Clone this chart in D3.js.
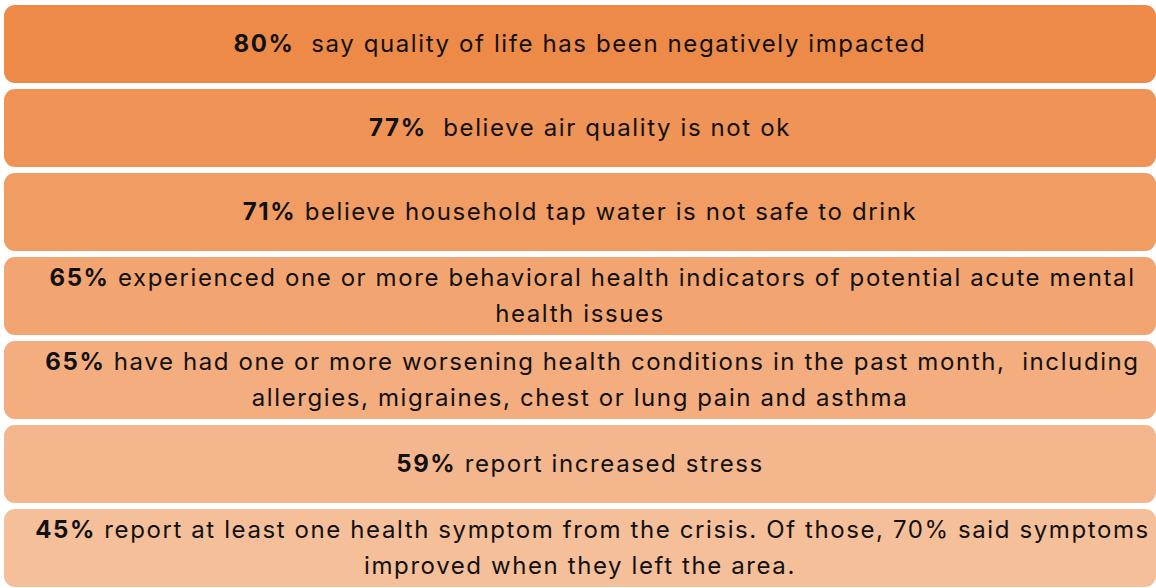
<!DOCTYPE html>
<html>
<head>
<meta charset="utf-8">
<script src="https://cdn.jsdelivr.net/npm/d3@7"></script>
<style>
  body { margin: 0; background: #fff; }
  svg { display: block; }
</style>
</head>
<body>
<div id="chart"></div>
<script>
// survey findings, one box per row
const percents = [80, 77, 71, 65, 65, 59, 45];
const statements = [
  ["\u00a0 say quality of life has been negatively impacted"],
  ["\u00a0 believe air quality is not ok"],
  [" believe household tap water is not safe to drink"],
  [" experienced one or more behavioral health indicators of potential acute mental", "health issues"],
  [" have had one or more worsening health conditions in the past month,  including", "allergies, migraines, chest or lung pain and asthma"],
  [" report increased stress"],
  [" report at least one health symptom from the crisis. Of those, 70% said symptoms", "improved when they left the area."]
];

const width = 1156, height = 588;
const lineH = 36;

const svg = d3.select("#chart")
  .append("svg")
  .attr("width", width)
  .attr("height", height);

const rows = d3.range(percents.length);

const y = d3.scaleBand()
  .domain(rows)
  .range([2, 590])
  .paddingInner(6 / 84)
  .paddingOuter(3 / 84);

const x = d3.scaleLinear().domain([0, 1]).range([4, 1156]);

// darker orange at the top fading to peach
const color = d3.scaleLinear()
  .domain([0, percents.length - 1])
  .range(["#ee8a48", "#f5bf9a"]);

const g = svg.selectAll("g.row")
  .data(rows)
  .join("g")
  .attr("class", "row");

g.append("rect")
  .attr("x", x(0))
  .attr("y", d => y(d))
  .attr("width", x(1) - x(0))
  .attr("height", y.bandwidth())
  .attr("rx", 11)
  .attr("fill", d => color(d));

g.each(function(d) {
  const lines = statements[d];
  const cy = y(d) + y.bandwidth() / 2;
  const first = cy - (lines.length - 1) * lineH / 2;
  lines.forEach((ln, i) => {
    const t = d3.select(this).append("text")
      .attr("x", (x(0) + x(1)) / 2)
      .attr("y", first + i * lineH)
      .attr("dy", "0.34em")
      .attr("text-anchor", "middle")
      .style("font-family", "Inter, 'Noto Sans', sans-serif")
      .style("font-size", "24px")
      .style("letter-spacing", "1.6px")
      .style("fill", "#111")
      .style("white-space", "pre");
    if (i === 0) {
      // wrapped paragraphs sit a little right in the original
      if (lines.length > 1) t.append("tspan").text("\u00a0\u00a0\u00a0");
      t.append("tspan").style("font-weight", "bold").text(percents[d] + "%");
    }
    t.append("tspan").text(ln);
  });
});
</script>
</body>
</html>
